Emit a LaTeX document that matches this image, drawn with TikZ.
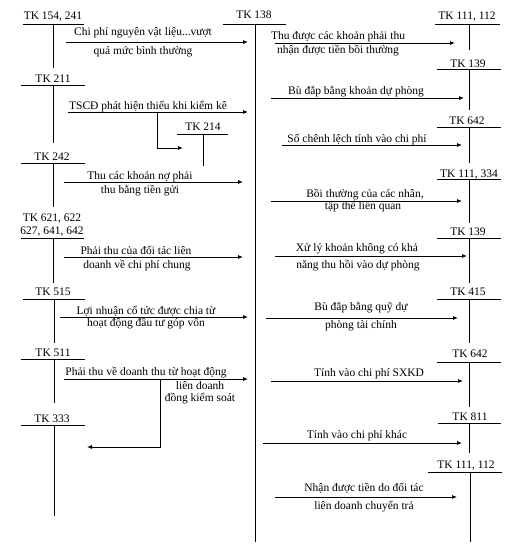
\documentclass[tikz,border=0pt]{standalone}
\usepackage{fontspec}
\setmainfont{Liberation Serif}
\usetikzlibrary{arrows.meta}

\begin{document}
\begin{tikzpicture}[
    x=1pt,y=-1pt,
    acct/.style={anchor=base,inner sep=0pt,font=\fontsize{11.5}{13}\selectfont},
    lbl/.style={anchor=base,inner sep=0pt,font=\fontsize{11.5}{13}\selectfont},
    tline/.style={line width=0.8pt},
    arr/.style={-{Latex[length=5pt,width=4pt]},line width=0.8pt}
  ]
    \useasboundingbox (0,0) rectangle (519,551);

    % left accounts
    \node[acct] (tk154) at (53,20) {TK 154, 241};
    \draw[tline] (23,24) -- (84,24) (53,24) -- (53,68);
    \node[acct] (tk211) at (53,82) {TK 211};
    \draw[tline] (21,85) -- (85,85) (53,85) -- (53,143);
    \node[acct] (tk214) at (203,130) {TK 214};
    \draw[tline] (177,134) -- (228,134) (203,134) -- (203,166);
    \node[acct] (tk242) at (52,160) {TK 242};
    \draw[tline] (21,163) -- (85,163) (53,163) -- (53,207);
    \node[acct] (tk621) at (52,221) {TK 621, 622};
    \node[acct] (tk627) at (52,234) {627, 641, 642};
    \draw[tline] (21,238) -- (84,238) (53,238) -- (53,283);
    \node[acct] (tk515) at (53,295) {TK 515};
    \draw[tline] (23,299) -- (85,299) (54,299) -- (54,343);
    \node[acct] (tk511) at (53,356) {TK 511};
    \draw[tline] (21,359) -- (85,359) (54,359) -- (54,403);
    \node[acct] (tk333) at (52,422) {TK 333};
    \draw[tline] (21,425) -- (85,425) (54,425) -- (54,516);

    % middle account
    \node[acct] (tk138) at (254,19) {TK 138};
    \draw[tline] (223,24) -- (286,24) (255,24) -- (255,542);

    % right accounts
    \node[acct] (tk111a) at (467,20) {TK 111, 112};
    \draw[tline] (435,24) -- (500,24) (469,24) -- (469,50);
    \node[acct] (tk139a) at (468,67) {TK 139};
    \draw[tline] (437,69) -- (501,69) (469,69) -- (469,110);
    \node[acct] (tk642a) at (467,124) {TK 642};
    \draw[tline] (437,127) -- (501,127) (469,127) -- (469,163);
    \node[acct] (tk111b) at (469,177) {TK 111, 334};
    \draw[tline] (437,179) -- (501,179) (469,179) -- (469,223);
    \node[acct] (tk139b) at (468,235) {TK 139};
    \draw[tline] (437,238) -- (501,238) (469,238) -- (469,283);
    \node[acct] (tk415) at (468,295) {TK 415};
    \draw[tline] (437,299) -- (501,299) (469,299) -- (469,343);
    \node[acct] (tk642b) at (470,357) {TK 642};
    \draw[tline] (437,362) -- (501,362) (469,362) -- (469,407);
    \node[acct] (tk811) at (470,420) {TK 811};
    \draw[tline] (438,423) -- (501,423) (469,423) -- (469,453);
    \node[acct] (tk111c) at (466,468) {TK 111, 112};
    \draw[tline] (428,472) -- (502,472) (470,472) -- (470,542);

    % arrow ends
    \coordinate (a1s) at (66,42);   \coordinate (a1e) at (248,42);
    \coordinate (a2s) at (68,112);  \coordinate (a2e) at (248,112);
    \coordinate (a2b) at (157,112); \coordinate (a2t) at (183,148);
    \coordinate (a3s) at (64,182);  \coordinate (a3e) at (243,182);
    \coordinate (a4s) at (64,257);  \coordinate (a4e) at (243,257);
    \coordinate (a5s) at (60,317);  \coordinate (a5e) at (248,317);
    \coordinate (a6s) at (64,379);  \coordinate (a6e) at (248,379);
    \coordinate (a6b) at (160,379); \coordinate (a6t) at (87,447);
    \coordinate (b1s) at (275,43);  \coordinate (b1e) at (455,43);
    \coordinate (b2s) at (271,98);  \coordinate (b2e) at (464,98);
    \coordinate (b3s) at (282,145); \coordinate (b3e) at (462,145);
    \coordinate (b4s) at (271,201); \coordinate (b4e) at (462,201);
    \coordinate (b5s) at (275,256); \coordinate (b5e) at (467,256);
    \coordinate (b6s) at (266,318); \coordinate (b6e) at (458,318);
    \coordinate (b7s) at (271,381); \coordinate (b7e) at (463,381);
    \coordinate (b8s) at (263,443); \coordinate (b8e) at (462,443);
    \coordinate (b9s) at (275,497); \coordinate (b9e) at (457,497);

    % left arrows
    \draw[arr] (a1s) -- (a1e);
    \node[lbl] (l1a) at (143,36) {Chi phí nguyên vật liệu...vượt};
    \node[lbl] (l1b) at (143,55) {quá mức bình thường};
    \draw[arr] (a2s) -- (a2e);
    \draw[arr] (a2b) |- (a2t);
    \node[lbl] (l2) at (148,109) {TSCĐ phát hiện thiếu khi kiểm kê};
    \draw[arr] (a3s) -- (a3e);
    \node[lbl] (l3a) at (140,179) {Thu các khoản nợ phải};
    \node[lbl] (l3b) at (140,193) {thu bằng tiền gửi};
    \draw[arr] (a4s) -- (a4e);
    \node[lbl] (l4a) at (136,254) {Phải thu của đối tác liên};
    \node[lbl] (l4b) at (137,268) {doanh về chi phí chung};
    \draw[arr] (a5s) -- (a5e);
    \node[lbl] (l5a) at (146,314) {Lợi nhuận cổ tức được chia từ};
    \node[lbl] (l5b) at (146,326) {hoạt động đầu tư góp vốn};
    \draw[arr] (a6s) -- (a6e);
    \draw[arr] (a6b) |- (a6t);
    \node[lbl] (l6a) at (146,375) {Phải thu về doanh thu từ hoạt động};
    \node[lbl] (l6b) at (200,389) {liên doanh};
    \node[lbl] (l6c) at (200,401) {đồng kiểm soát};

    % right arrows
    \draw[arr] (b1s) -- (b1e);
    \node[lbl] (r1a) at (338,40) {Thu được các khoản phải thu};
    \node[lbl] (r1b) at (338,54) {nhận được tiền bồi thường};
    \draw[arr] (b2s) -- (b2e);
    \node[lbl] (r2) at (356,94) {Bù đắp bằng khoản dự phòng};
    \draw[arr] (b3s) -- (b3e);
    \node[lbl] (r3) at (357,142) {Số chênh lệch tính vào chi phí};
    \draw[arr] (b4s) -- (b4e);
    \node[lbl] (r4a) at (365,197) {Bồi thường của các nhân,};
    \node[lbl] (r4b) at (363,209) {tập thể liên quan};
    \draw[arr] (b5s) -- (b5e);
    \node[lbl] (r5a) at (357,251) {Xử lý khoản không có khả};
    \node[lbl] (r5b) at (358,268) {năng thu hồi vào dự phòng};
    \draw[arr] (b6s) -- (b6e);
    \node[lbl] (r6a) at (361,310) {Bù đắp bằng quỹ dự};
    \node[lbl] (r6b) at (361,328) {phòng tài chính};
    \draw[arr] (b7s) -- (b7e);
    \node[lbl] (r7) at (369,376) {Tính vào chi phí SXKD};
    \draw[arr] (b8s) -- (b8e);
    \node[lbl] (r8) at (357,438) {Tính vào chi phí khác};
    \draw[arr] (b9s) -- (b9e);
    \node[lbl] (r9a) at (364,491) {Nhận được tiền do đối tác};
    \node[lbl] (r9b) at (364,509) {liên doanh chuyển trả};
\end{tikzpicture}
\end{document}
